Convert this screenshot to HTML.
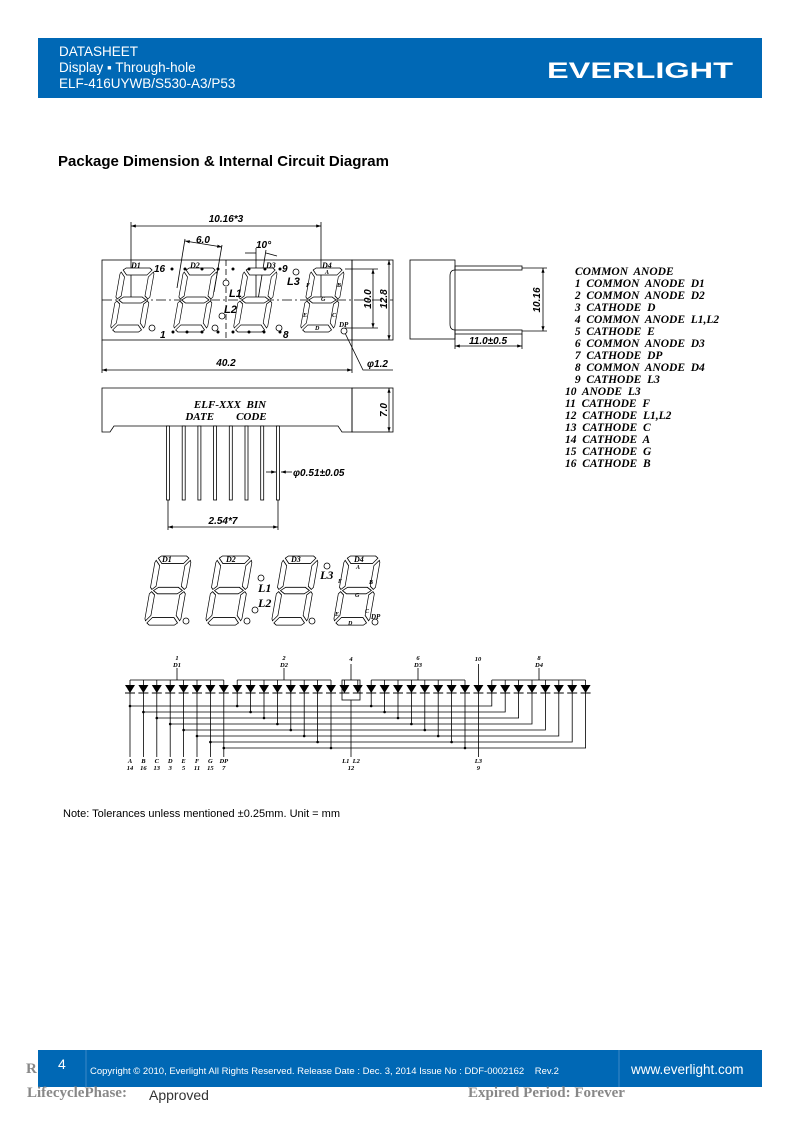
<!DOCTYPE html>
<html><head><meta charset="utf-8"><style>
html,body{margin:0;padding:0;background:#fff}
svg{display:block}
text{white-space:pre}
.s{font-family:"Liberation Sans",sans-serif}
.d{font-family:"Liberation Sans",sans-serif;font-style:italic;font-weight:bold;font-size:10px}
.t{font-family:"Liberation Serif",serif;font-style:italic;font-weight:bold}
</style></head><body>
<svg width="794" height="1123" viewBox="0 0 794 1123" xmlns="http://www.w3.org/2000/svg" xml:space="preserve">
<defs>
<g id="dg" fill="#fff" stroke="#000" stroke-width="0.8">
<polygon points="3,2 6,0 34,0 37,2 32,7 8,7"/>
<polygon points="4,32 9,29 31,29 36,32 31,35 9,35"/>
<polygon points="3,62 8,57 32,57 37,62 34,64 6,64"/>
<polygon points="1,4 6,9 6,28 2,31 0,29 0,6"/>
<polygon points="39,4 34,9 34,28 38,31 40,29 40,6"/>
<polygon points="2,33 6,36 6,55 1,60 0,58 0,35"/>
<polygon points="38,33 34,36 34,55 39,60 40,58 40,35"/>
</g>
<g id="di"><polygon points="-5,685 5,685 0,693" fill="#000"/><line x1="-5" y1="693" x2="5" y2="693" stroke="#000"/><line x1="0" y1="680" x2="0" y2="685" stroke="#000" stroke-width="0.8"/></g>
<marker id="ar" markerWidth="6" markerHeight="4" refX="6" refY="2" orient="auto-start-reverse"><path d="M0,0 L6,2 L0,4 Z" fill="#000"/></marker>
</defs>

<rect x="38" y="38" width="724" height="60" fill="#0068b5"/>
<text class="s" x="59" y="56" font-size="13.5" fill="#fff">DATASHEET</text>
<text class="s" x="59" y="72" font-size="13.5" fill="#fff">Display ▪ Through-hole</text>
<text class="s" x="59" y="88" font-size="13.5" fill="#fff">ELF-416UYWB/S530-A3/P53</text>
<text class="s" x="547" y="78" font-size="22" font-weight="bold" fill="#fff" textLength="186" lengthAdjust="spacingAndGlyphs">EVERLIGHT</text>

<text class="s" x="58" y="166" font-size="15" font-weight="bold">Package Dimension &amp; Internal Circuit Diagram</text>

<g stroke="#000" stroke-width="0.8" fill="none">
<rect x="102" y="260" width="250" height="80"/>
<rect x="352" y="260" width="41" height="80"/>
<line x1="102" y1="300" x2="393" y2="300" stroke-dasharray="10,3,2,3"/>
<line x1="226" y1="260" x2="226" y2="340" stroke-dasharray="6,3"/>
<line x1="131" y1="226" x2="321" y2="226" marker-start="url(#ar)" marker-end="url(#ar)"/>
<line x1="131" y1="222" x2="131" y2="300"/><line x1="321" y1="222" x2="321" y2="300"/>
<line x1="185" y1="241" x2="222" y2="247" marker-start="url(#ar)" marker-end="url(#ar)"/>
<line x1="185" y1="239" x2="177" y2="288"/><line x1="222" y1="245" x2="214" y2="292"/>
<line x1="245" y1="253" x2="256" y2="253"/><line x1="266" y1="253" x2="277" y2="256"/>
<line x1="256" y1="248" x2="256" y2="300"/><line x1="266" y1="250" x2="258" y2="300"/>
<line x1="345" y1="269" x2="378" y2="269"/><line x1="345" y1="328" x2="378" y2="328"/>
<line x1="373" y1="269" x2="373" y2="328" marker-start="url(#ar)" marker-end="url(#ar)"/>
<line x1="389" y1="260" x2="389" y2="340" marker-start="url(#ar)" marker-end="url(#ar)"/>
<line x1="102" y1="340" x2="102" y2="373"/><line x1="352" y1="340" x2="352" y2="373"/>
<line x1="102" y1="370" x2="352" y2="370" marker-start="url(#ar)" marker-end="url(#ar)"/>
<polyline points="345,333 363,370 393,370"/>
<path d="M102 388 H352 V432 H342 L338 426 H114 L110 432 H102 Z"/>
<rect x="352" y="388" width="41" height="44"/>
<line x1="389" y1="388" x2="389" y2="432" marker-start="url(#ar)" marker-end="url(#ar)"/>
<line x1="168" y1="500" x2="168" y2="530"/><line x1="278" y1="500" x2="278" y2="530"/>
<line x1="168" y1="527" x2="278" y2="527" marker-start="url(#ar)" marker-end="url(#ar)"/>
<line x1="266" y1="472" x2="276" y2="472" marker-end="url(#ar)"/>
<line x1="292" y1="472" x2="281" y2="472" marker-end="url(#ar)"/>
<rect x="410" y="260" width="45" height="79"/>
<rect x="455" y="266" width="67" height="4"/>
<rect x="455" y="330" width="67" height="4"/>
<path d="M455 270 Q450 270 450 276 V324 Q450 330 455 330"/>
<line x1="522" y1="268" x2="547" y2="268"/><line x1="522" y1="331" x2="547" y2="331"/>
<line x1="543" y1="268" x2="543" y2="331" marker-start="url(#ar)" marker-end="url(#ar)"/>
<line x1="455" y1="334" x2="455" y2="349"/><line x1="522" y1="334" x2="522" y2="349"/>
<line x1="455" y1="346" x2="522" y2="346" marker-start="url(#ar)" marker-end="url(#ar)"/>
</g>
<g fill="#fff" stroke="#000" stroke-width="0.8">
<rect x="166.5" y="426" width="3" height="74"/><rect x="182.2" y="426" width="3" height="74"/><rect x="197.9" y="426" width="3" height="74"/><rect x="213.6" y="426" width="3" height="74"/><rect x="229.3" y="426" width="3" height="74"/><rect x="245" y="426" width="3" height="74"/><rect x="260.7" y="426" width="3" height="74"/><rect x="276.4" y="426" width="3" height="74"/>
</g>
<use href="#dg" transform="translate(121,268) skewX(-10) scale(0.85,1)"/>
<use href="#dg" transform="translate(184,268) skewX(-10) scale(0.85,1)"/>
<use href="#dg" transform="translate(244,268) skewX(-10) scale(0.85,1)"/>
<use href="#dg" transform="translate(311,268) skewX(-10) scale(0.85,1)"/>
<g fill="#fff" stroke="#000" stroke-width="0.8">
<circle cx="152" cy="328" r="3"/><circle cx="215" cy="328" r="3"/><circle cx="279" cy="328" r="3"/><circle cx="344" cy="331" r="3"/>
<circle cx="226" cy="283" r="3"/><circle cx="222" cy="316" r="3"/><circle cx="296" cy="272" r="3"/>
</g>
<g fill="#000">
<circle cx="172" cy="269" r="1.5"/><circle cx="185" cy="269" r="1.5"/><circle cx="202" cy="269" r="1.5"/><circle cx="218" cy="269" r="1.5"/><circle cx="233" cy="269" r="1.5"/><circle cx="249" cy="269" r="1.5"/><circle cx="265" cy="269" r="1.5"/><circle cx="280" cy="269" r="1.5"/>
<circle cx="173" cy="332" r="1.5"/><circle cx="187" cy="332" r="1.5"/><circle cx="202" cy="332" r="1.5"/><circle cx="218" cy="332" r="1.5"/><circle cx="233" cy="332" r="1.5"/><circle cx="249" cy="332" r="1.5"/><circle cx="264" cy="332" r="1.5"/><circle cx="280" cy="332" r="1.5"/>
</g>
<g class="t" font-size="8">
<text x="131" y="268">D1</text><text x="190" y="268">D2</text><text x="266" y="268">D3</text><text x="322" y="268">D4</text>
<text x="325" y="274" font-size="6">A</text><text x="337" y="287" font-size="6">B</text><text x="306" y="287" font-size="6">F</text><text x="321" y="301" font-size="6">G</text><text x="303" y="317" font-size="6">E</text><text x="332" y="317" font-size="6">C</text><text x="315" y="330" font-size="6">D</text><text x="339" y="327" font-size="7">DP</text>
</g>
<g class="d">
<text x="154" y="272">16</text><text x="282" y="272">9</text><text x="160" y="338">1</text><text x="283" y="338">8</text>
<text x="229" y="297" font-size="11">L1</text><text x="224" y="313" font-size="11">L2</text><text x="287" y="285" font-size="11">L3</text>
<text x="226" y="222" text-anchor="middle">10.16*3</text>
<text x="196" y="243">6.0</text>
<text x="256" y="248">10°</text>
<text x="226" y="366" text-anchor="middle">40.2</text>
<text x="367" y="367">φ1.2</text>
<text x="293" y="476">φ0.51±0.05</text>
<text x="223" y="524" text-anchor="middle">2.54*7</text>
<text x="488" y="344" text-anchor="middle">11.0±0.5</text>
<text transform="translate(371,299) rotate(-90)" text-anchor="middle">10.0</text>
<text transform="translate(387,299) rotate(-90)" text-anchor="middle">12.8</text>
<text transform="translate(387,410) rotate(-90)" text-anchor="middle">7.0</text>
<text transform="translate(540,300) rotate(-90)" text-anchor="middle">10.16</text>
</g>
<g class="t" font-size="11" text-anchor="middle">
<text x="230" y="408">ELF-XXX  BIN</text><text x="226" y="420">DATE        CODE</text>
</g>
<g class="t" font-size="11.5">
<text x="575" y="275">COMMON  ANODE</text>
<text x="572" y="287"> 1  COMMON  ANODE  D1</text>
<text x="572" y="299"> 2  COMMON  ANODE  D2</text>
<text x="572" y="311"> 3  CATHODE  D</text>
<text x="572" y="323"> 4  COMMON  ANODE  L1,L2</text>
<text x="572" y="335"> 5  CATHODE  E</text>
<text x="572" y="347"> 6  COMMON  ANODE  D3</text>
<text x="572" y="359"> 7  CATHODE  DP</text>
<text x="572" y="371"> 8  COMMON  ANODE  D4</text>
<text x="572" y="383"> 9  CATHODE  L3</text>
<text x="565" y="395">10  ANODE  L3</text>
<text x="565" y="407">11  CATHODE  F</text>
<text x="565" y="419">12  CATHODE  L1,L2</text>
<text x="565" y="431">13  CATHODE  C</text>
<text x="565" y="443">14  CATHODE  A</text>
<text x="565" y="455">15  CATHODE  G</text>
<text x="565" y="467">16  CATHODE  B</text>
</g>
<use href="#dg" transform="translate(156,556) skewX(-10) scale(0.9,1.08)"/>
<use href="#dg" transform="translate(217,556) skewX(-10) scale(0.9,1.08)"/>
<use href="#dg" transform="translate(283,556) skewX(-10) scale(0.9,1.08)"/>
<use href="#dg" transform="translate(345,556) skewX(-10) scale(0.9,1.08)"/>
<g fill="#fff" stroke="#000" stroke-width="0.8">
<circle cx="186" cy="621" r="3"/><circle cx="247" cy="621" r="3"/><circle cx="312" cy="621" r="3"/><circle cx="375" cy="622" r="3"/>
<circle cx="261" cy="578" r="3"/><circle cx="255" cy="610" r="3"/><circle cx="327" cy="566" r="3"/>
</g>
<g class="t" font-size="8">
<text x="162" y="562">D1</text><text x="226" y="562">D2</text><text x="291" y="562">D3</text><text x="354" y="562">D4</text>
<text x="356" y="569" font-size="6">A</text><text x="369" y="584" font-size="6">B</text><text x="338" y="583" font-size="6">F</text><text x="355" y="597" font-size="6">G</text><text x="335" y="616" font-size="6">E</text><text x="365" y="613" font-size="6">C</text><text x="348" y="625" font-size="6">D</text><text x="371" y="619" font-size="7">DP</text>
<text x="258" y="592" font-size="12">L1</text><text x="258" y="607" font-size="12">L2</text><text x="320" y="579" font-size="12">L3</text>
</g>
<g>
<use href="#di" x="130"/><use href="#di" x="143.4"/><use href="#di" x="156.8"/><use href="#di" x="170.2"/><use href="#di" x="183.6"/><use href="#di" x="197"/><use href="#di" x="210.4"/><use href="#di" x="223.8"/>
<use href="#di" x="237.2"/><use href="#di" x="250.6"/><use href="#di" x="264"/><use href="#di" x="277.4"/><use href="#di" x="290.8"/><use href="#di" x="304.2"/><use href="#di" x="317.6"/><use href="#di" x="331"/>
<use href="#di" x="344.4"/><use href="#di" x="357.8"/>
<use href="#di" x="371.2"/><use href="#di" x="384.6"/><use href="#di" x="398"/><use href="#di" x="411.4"/><use href="#di" x="424.8"/><use href="#di" x="438.2"/><use href="#di" x="451.6"/><use href="#di" x="465"/>
<use href="#di" x="478.4"/>
<use href="#di" x="491.8"/><use href="#di" x="505.2"/><use href="#di" x="518.6"/><use href="#di" x="532"/><use href="#di" x="545.4"/><use href="#di" x="558.8"/><use href="#di" x="572.2"/><use href="#di" x="585.6"/>
</g>
<g stroke="#000" stroke-width="0.8" fill="none">
<path d="M130 680H223.8 M177 680V668 M237.2 680H331 M284 680V668 M371.2 680H465 M418 680V668 M491.8 680H585.6 M539 680V668"/>
<rect x="342" y="680" width="18" height="20"/>
<path d="M351 680V664 M351 700V757 M478.4 680V664 M478.4 693V757"/>
<path d="M130 693V757 M130 706H491.8V693 M237.2 693V706 M371.2 693V706"/>
<path d="M143.4 693V757 M143.4 712H505.2V693 M250.6 693V712 M384.6 693V712"/>
<path d="M156.8 693V757 M156.8 718H518.6V693 M264 693V718 M398 693V718"/>
<path d="M170.2 693V757 M170.2 724H532V693 M277.4 693V724 M411.4 693V724"/>
<path d="M183.6 693V757 M183.6 730H545.4V693 M290.8 693V730 M424.8 693V730"/>
<path d="M197 693V757 M197 736H558.8V693 M304.2 693V736 M438.2 693V736"/>
<path d="M210.4 693V757 M210.4 742H572.2V693 M317.6 693V742 M451.6 693V742"/>
<path d="M223.8 693V757 M223.8 748H585.6V693 M331 693V748 M465 693V748"/>
</g>
<g fill="#000">
<circle cx="130" cy="706" r="1.3"/><circle cx="237.2" cy="706" r="1.3"/><circle cx="371.2" cy="706" r="1.3"/>
<circle cx="143.4" cy="712" r="1.3"/><circle cx="250.6" cy="712" r="1.3"/><circle cx="384.6" cy="712" r="1.3"/>
<circle cx="156.8" cy="718" r="1.3"/><circle cx="264" cy="718" r="1.3"/><circle cx="398" cy="718" r="1.3"/>
<circle cx="170.2" cy="724" r="1.3"/><circle cx="277.4" cy="724" r="1.3"/><circle cx="411.4" cy="724" r="1.3"/>
<circle cx="183.6" cy="730" r="1.3"/><circle cx="290.8" cy="730" r="1.3"/><circle cx="424.8" cy="730" r="1.3"/>
<circle cx="197" cy="736" r="1.3"/><circle cx="304.2" cy="736" r="1.3"/><circle cx="438.2" cy="736" r="1.3"/>
<circle cx="210.4" cy="742" r="1.3"/><circle cx="317.6" cy="742" r="1.3"/><circle cx="451.6" cy="742" r="1.3"/>
<circle cx="223.8" cy="748" r="1.3"/><circle cx="331" cy="748" r="1.3"/><circle cx="465" cy="748" r="1.3"/>
</g>
<g class="t" font-size="6.5" text-anchor="middle">
<text x="177" y="660">1</text><text x="177" y="667">D1</text>
<text x="284" y="660">2</text><text x="284" y="667">D2</text>
<text x="351" y="661">4</text>
<text x="418" y="660">6</text><text x="418" y="667">D3</text>
<text x="478" y="661">10</text>
<text x="539" y="660">8</text><text x="539" y="667">D4</text>
<text x="130" y="763">A</text><text x="130" y="770">14</text>
<text x="143.4" y="763">B</text><text x="143.4" y="770">16</text>
<text x="156.8" y="763">C</text><text x="156.8" y="770">13</text>
<text x="170.2" y="763">D</text><text x="170.2" y="770">3</text>
<text x="183.6" y="763">E</text><text x="183.6" y="770">5</text>
<text x="197" y="763">F</text><text x="197" y="770">11</text>
<text x="210.4" y="763">G</text><text x="210.4" y="770">15</text>
<text x="223.8" y="763">DP</text><text x="223.8" y="770">7</text>
<text x="351" y="763">L1  L2</text><text x="351" y="770">12</text>
<text x="478.4" y="763">L3</text><text x="478.4" y="770">9</text>
</g>

<text class="s" x="63" y="817" font-size="11">Note: Tolerances unless mentioned ±0.25mm. Unit = mm</text>

<text x="26" y="1073" font-family="Liberation Serif,serif" font-weight="bold" font-size="15" fill="#888">R</text>
<rect x="38" y="1050" width="724" height="37" fill="#0068b5"/>
<line x1="86" y1="1050" x2="86" y2="1087" stroke="#4a90cc" stroke-width="0.8"/>
<line x1="619" y1="1050" x2="619" y2="1087" stroke="#4a90cc" stroke-width="0.8"/>
<text class="s" x="58" y="1069" font-size="14" fill="#fff">4</text>
<text class="s" x="90" y="1074" font-size="9.5" fill="#fff">Copyright © 2010, Everlight All Rights Reserved. Release Date : Dec. 3, 2014 Issue No : DDF-0002162    Rev.2</text>
<text class="s" x="631" y="1074" font-size="13.5" fill="#fff">www.everlight.com</text>
<text x="27" y="1097" font-family="Liberation Serif,serif" font-weight="bold" font-size="15" fill="#888">LifecyclePhase:</text>
<text class="s" x="149" y="1100" font-size="14" fill="#333">Approved</text>
<text x="468" y="1097" font-family="Liberation Serif,serif" font-weight="bold" font-size="15" fill="#888">Expired Period: Forever</text>
</svg>
</body></html>
